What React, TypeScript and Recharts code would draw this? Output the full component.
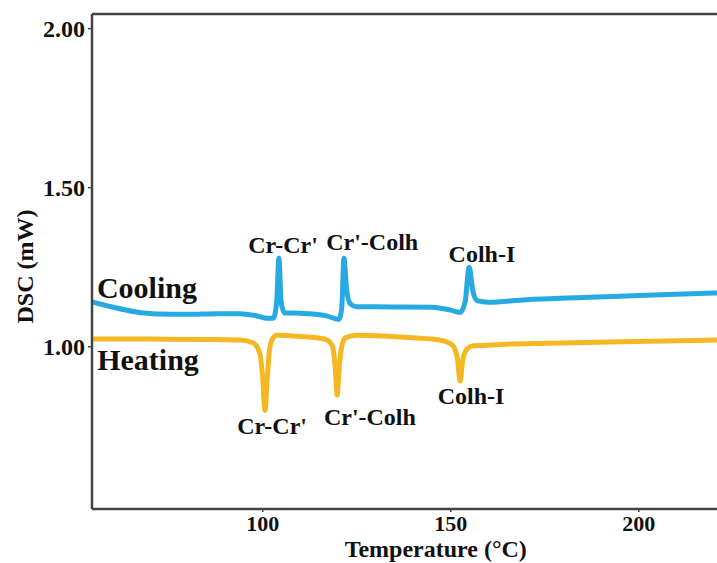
import React from "react"
import {
  LineChart,
  Line,
  XAxis,
  YAxis,
  ReferenceLine,
  ReferenceDot,
} from "recharts"

// DSC traces, [temperature °C, heat flow mW]
const coolingTrace: [number, number][] = [
  [54.6, 1.141], [60, 1.125], [66, 1.11], [72, 1.103], [80, 1.102], [88, 1.104],
  [94, 1.104], [98, 1.098], [101, 1.09], [102.8, 1.09], [103.7, 1.14], [104.3, 1.278],
  [104.9, 1.14], [105.8, 1.106], [108, 1.106], [112, 1.104], [117, 1.097], [120.2, 1.086],
  [121.0, 1.12], [121.6, 1.278], [122.3, 1.18], [123.3, 1.135], [125, 1.126], [135, 1.125],
  [145, 1.124], [150, 1.115], [152.5, 1.108], [153.8, 1.14], [154.9, 1.25], [155.8, 1.18],
  [157, 1.145], [160, 1.14], [170, 1.148], [185, 1.155], [200, 1.161], [220.8, 1.169],
]

const heatingTrace: [number, number][] = [
  [54.6, 1.024], [70, 1.024], [85, 1.023], [94, 1.021], [97.5, 1.012], [99.2, 0.98],
  [100.0, 0.9], [100.6, 0.8], [101.2, 0.9], [101.8, 0.99], [102.6, 1.025], [103.8, 1.036],
  [108, 1.034], [113, 1.03], [117, 1.022], [118.6, 1.0], [119.3, 0.93], [119.8, 0.848],
  [120.3, 0.93], [121.0, 1.0], [122, 1.028], [125, 1.036], [132, 1.034], [140, 1.028],
  [147, 1.021], [150.5, 1.005], [151.8, 0.96], [152.5, 0.892], [153.2, 0.96], [154.5, 0.995],
  [156, 1.003], [158, 1.004], [165, 1.008], [176, 1.011], [195, 1.016], [220.8, 1.021],
]

// transition labels: [text, temperature, mW]
const coolingLabels: [string, number, number][] = [
  ["Cr-Cr'", 105.4, 1.32],
  ["Cr'-Colh", 129.1, 1.332],
  ["Colh-I", 158.3, 1.294],
]
const heatingLabels: [string, number, number][] = [
  ["Cr-Cr'", 102.5, 0.754],
  ["Cr'-Colh", 128.5, 0.782],
  ["Colh-I", 155.4, 0.848],
]
const traceLabels: [string, number, number][] = [
  ["Cooling", 69.2, 1.188],
  ["Heating", 69.5, 0.961],
]

const xTicks = [100, 150, 200]
const yTicks = [1.0, 1.5, 2.0]
const X_MIN = 54.6
const X_MAX = 220.8
const Y_MIN = 0.49
const Y_MAX = 2.046

const BLUE = "#27a9e1"
const AMBER = "#f5b823"
const AXIS = "#444"
const SERIF = '"Liberation Serif", "Times New Roman", serif'

const toRows = (trace: [number, number][]) => trace.map(([t, v]) => ({ t, v }))
const coolingRows = toRows(coolingTrace)
const heatingRows = toRows(heatingTrace)

const textStyle = { fill: "#111", fontFamily: SERIF, fontWeight: 700 }

function XTitle(props: any) {
  const vb = props.viewBox || { x: 92, y: 509, width: 625, height: 54 }
  return (
    <text
      x={vb.x + vb.width * 0.55}
      y={vb.y + vb.height - 6}
      textAnchor="middle"
      fontSize={24}
      {...textStyle}
    >
      Temperature (°C)
    </text>
  )
}

function YTitle(props: any) {
  const vb = props.viewBox || { x: 0, y: 14, width: 92, height: 495 }
  const x = vb.x + 33
  const y = vb.y + vb.height / 2 + 5
  return (
    <text
      x={x}
      y={y}
      transform={`rotate(-90 ${x} ${y})`}
      textAnchor="middle"
      fontSize={24}
      {...textStyle}
    >
      DSC (mW)
    </text>
  )
}

function tagDots(labels: [string, number, number][], size: number, prefix: string) {
  return labels.map(([text, t, v], i) => (
    <ReferenceDot
      key={prefix + i}
      x={t}
      y={v}
      r={0}
      stroke="none"
      fill="none"
      label={{
        value: text,
        position: "center",
        fontSize: size,
        ...textStyle,
      }}
    />
  ))
}

export default function App() {
  return (
    <div style={{ position: "absolute", left: 0, top: 0, background: "#fff" }}>
      <LineChart
        width={717}
        height={563}
        margin={{ top: 14, right: 0, bottom: 0, left: 0 }}
      >
        <XAxis
          dataKey="t"
          type="number"
          domain={[X_MIN, X_MAX]}
          allowDataOverflow
          ticks={xTicks}
          height={54}
          tickSize={3}
          tickMargin={3}
          axisLine={{ stroke: AXIS, strokeWidth: 2.5 }}
          tickLine={{ stroke: AXIS, strokeWidth: 1.5 }}
          tick={{ fontSize: 22, ...textStyle }}
          label={<XTitle />}
        />
        <YAxis
          type="number"
          domain={[Y_MIN, Y_MAX]}
          allowDataOverflow
          ticks={yTicks}
          width={92}
          tickSize={4}
          tickMargin={3}
          tickFormatter={(v: number) => v.toFixed(2)}
          axisLine={{ stroke: AXIS, strokeWidth: 2.5 }}
          tickLine={{ stroke: AXIS, strokeWidth: 1.5 }}
          tick={{ fontSize: 24, ...textStyle }}
          label={<YTitle />}
        />
        <ReferenceLine y={Y_MAX} stroke={AXIS} strokeWidth={2.5} />
        <Line
          data={heatingRows}
          dataKey="v"
          type="monotone"
          stroke={AMBER}
          strokeWidth={5}
          strokeLinejoin="round"
          dot={false}
          activeDot={false}
          isAnimationActive={false}
        />
        <Line
          data={coolingRows}
          dataKey="v"
          type="monotone"
          stroke={BLUE}
          strokeWidth={5}
          strokeLinejoin="round"
          dot={false}
          activeDot={false}
          isAnimationActive={false}
        />
        {tagDots(traceLabels, 30, "trace")}
        {tagDots(coolingLabels, 24, "cool")}
        {tagDots(heatingLabels, 24, "heat")}
      </LineChart>
    </div>
  )
}
